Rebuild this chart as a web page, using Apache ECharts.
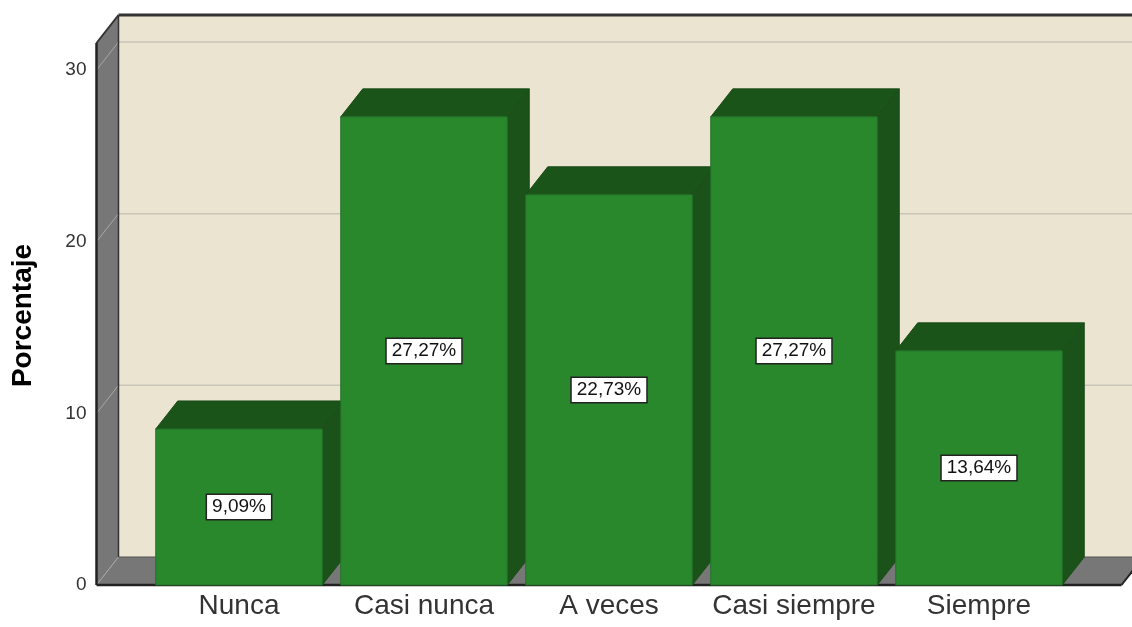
<!DOCTYPE html>
<html>
<head>
<meta charset="utf-8">
<script src="https://cdn.jsdelivr.net/npm/echarts@6/dist/echarts.min.js"></script>
<style>
  html, body { margin: 0; padding: 0; background: #fff; }
  #chart { width: 1132px; height: 627px; }
</style>
</head>
<body>
<div id="chart"></div>
<script>
// datos
const categories = ['Nunca', 'Casi nunca', 'A veces', 'Casi siempre', 'Siempre']
const percentages = [9.09, 27.27, 22.73, 27.27, 13.64]
const yTicks = [0, 10, 20, 30]

// profundidad 3D
const DX = 22
const DY = -28
const SIDE_PAD = 50
const TOP_PAD = 27

const fmt = v => v.toFixed(2).replace('.', ',') + '%'

const chart = echarts.init(document.getElementById('chart'))

// paredes, suelo y lineas de cuadricula
const renderWalls = (params, api) => {
  const cs = params.coordSys
  const L = cs.x - SIDE_PAD
  const R = cs.x + cs.width + SIDE_PAD
  const B = cs.y + cs.height
  const T = cs.y - TOP_PAD
  const children = []

  children.push({
    type: 'rect',
    shape: { x: L + DX, y: T + DY, width: R - L, height: B - T },
    style: { fill: '#ebe4d1' }
  })
  children.push({
    type: 'polygon',
    shape: { points: [[L, T], [L + DX, T + DY], [L + DX, B + DY], [L, B]] },
    style: { fill: '#777777' }
  })
  children.push({
    type: 'polygon',
    shape: { points: [[L, B], [L + DX, B + DY], [R + DX, B + DY], [R, B]] },
    style: { fill: '#777777' }
  })

  yTicks.forEach(t => {
    const y = api.coord([0, t])[1]
    if (t > 0) {
      children.push({
        type: 'line',
        shape: { x1: L + DX, y1: y + DY, x2: R + DX, y2: y + DY },
        style: { stroke: '#c9c5b9', lineWidth: 1.5 }
      })
    }
    children.push({
      type: 'line',
      shape: { x1: L, y1: y, x2: L + DX, y2: y + DY },
      style: { stroke: '#a8a8a8', lineWidth: 1 }
    })
  })

  // bordes
  const edge = (x1, y1, x2, y2, w, c) => children.push({
    type: 'line',
    shape: { x1, y1, x2, y2 },
    style: { stroke: c, lineWidth: w }
  })
  edge(L + DX, B + DY, R + DX, B + DY, 1, '#555')
  edge(L + DX, T + DY, L + DX, B + DY, 1.5, '#333')
  edge(L + DX, T + DY, R + DX, T + DY, 3, '#333')
  edge(L, T, L + DX, T + DY, 2, '#333')
  edge(L, T, L, B, 2.5, '#222')
  edge(L, B, R, B, 2.5, '#222')
  edge(R, B, R + DX, B + DY, 2, '#222')

  return { type: 'group', children }
}

// barras 3D con etiqueta
const renderBar = (params, api) => {
  const i = api.value(0)
  const v = api.value(1)
  const p0 = api.coord([i, 0])
  const p1 = api.coord([i, v])
  const bw = api.size([1, 0])[0] * 0.9
  const x = p0[0] - bw / 2
  const top = p1[1]
  const bottom = p0[1]
  const line = '#1a4c18'

  return {
    type: 'group',
    children: [
      {
        type: 'polygon',
        shape: { points: [[x, top], [x + DX, top + DY], [x + bw + DX, top + DY], [x + bw, top]] },
        style: { fill: '#1b5419', stroke: line, lineWidth: 1 }
      },
      {
        type: 'polygon',
        shape: { points: [[x + bw, top], [x + bw + DX, top + DY], [x + bw + DX, bottom + DY], [x + bw, bottom]] },
        style: { fill: '#1b5219', stroke: line, lineWidth: 1 }
      },
      {
        type: 'rect',
        shape: { x, y: top, width: bw, height: bottom - top },
        style: { fill: '#2a882c', stroke: '#22702a', lineWidth: 1 }
      },
      {
        type: 'text',
        z2: 10,
        style: {
          text: fmt(v),
          x: x + bw / 2,
          y: (top + bottom) / 2,
          align: 'center',
          verticalAlign: 'middle',
          fill: '#111',
          font: '19px "Liberation Sans", Arial, sans-serif',
          backgroundColor: '#fff',
          borderColor: '#222',
          borderWidth: 1.5,
          padding: [3, 5, 2, 5]
        }
      }
    ]
  }
}

const option = {
  animation: false,
  textStyle: { fontFamily: '"Liberation Sans", Arial, sans-serif' },
  grid: { left: 146.5, right: 60.5, top: 70, bottom: 42, outerBoundsMode: 'none', containLabel: false },
  xAxis: {
    type: 'category',
    data: categories,
    axisLine: { show: false },
    axisTick: { show: false },
    axisLabel: { color: '#333', fontSize: 28, margin: 7, interval: 0 }
  },
  yAxis: {
    type: 'value',
    min: 0,
    max: 30,
    interval: 10,
    name: 'Porcentaje',
    nameLocation: 'middle',
    nameRotate: 90,
    nameGap: 109,
    nameTextStyle: { color: '#000', fontSize: 28, fontWeight: 'bold', padding: [0, 0, 0, 24] },
    axisLine: { show: false },
    axisTick: { show: false },
    splitLine: { show: false },
    axisLabel: { color: '#333', fontSize: 19, margin: 60 }
  },
  series: [
    {
      type: 'custom',
      renderItem: renderWalls,
      data: [[0, 0]],
      z: 1,
      silent: true
    },
    {
      type: 'custom',
      renderItem: renderBar,
      data: percentages.map((v, i) => [i, v]),
      encode: { x: 0, y: 1 },
      z: 2
    }
  ]
}

chart.setOption(option)
</script>
</body>
</html>
